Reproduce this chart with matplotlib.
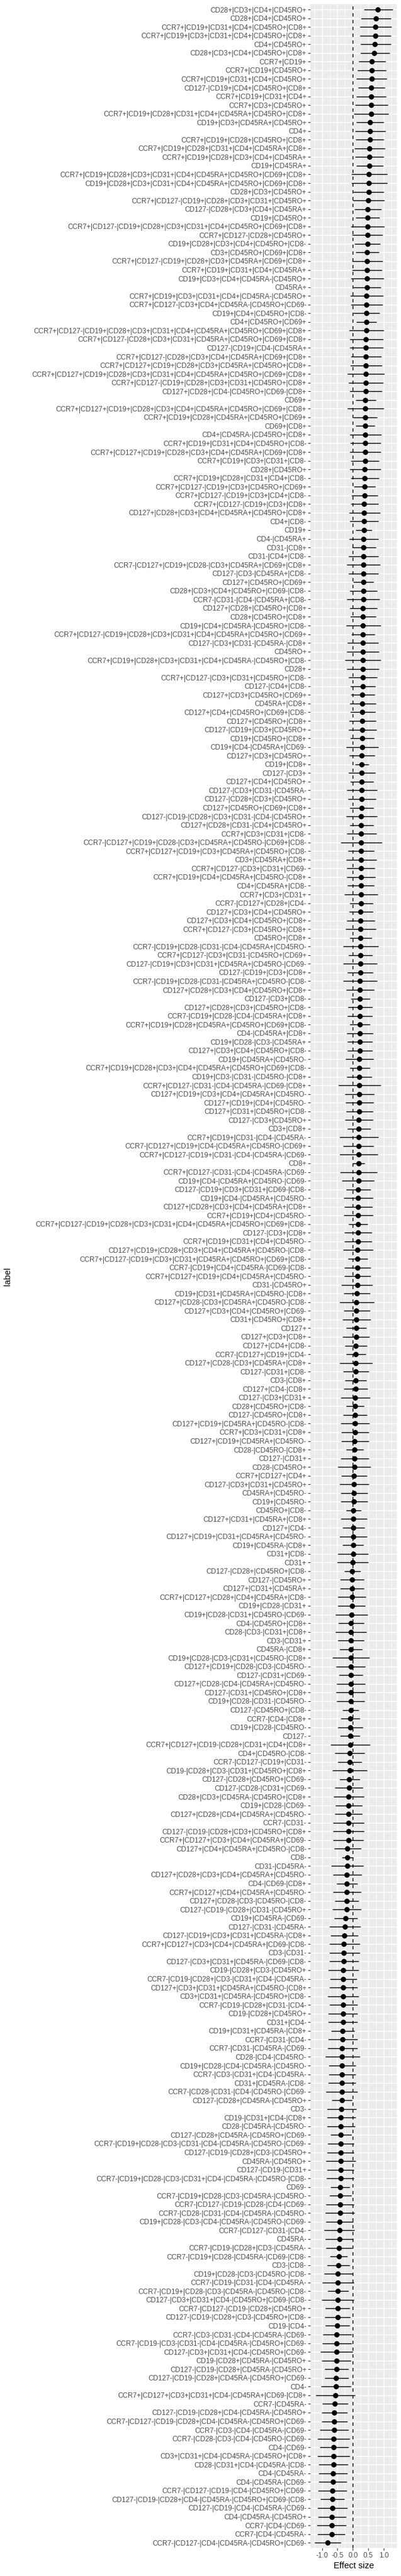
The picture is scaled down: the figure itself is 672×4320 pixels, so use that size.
import matplotlib
matplotlib.use("Agg")
import matplotlib.pyplot as plt
import numpy as np

plt.rcParams['font.family'] = ['Liberation Sans', 'DejaVu Sans']
plt.rcParams['axes.unicode_minus'] = False

# 1) Data: cell populations, top row first
labels = [
    "CD28+|CD3+|CD4+|CD45RO+", "CD28+|CD4+|CD45RO+", "CCR7+|CD19+|CD31+|CD4+|CD45RO+|CD8+",
    "CCR7+|CD19+|CD3+|CD31+|CD4+|CD45RO+|CD8+", "CD4+|CD45RO+", "CD28+|CD3+|CD4+|CD45RO+|CD8+",
    "CCR7+|CD19+", "CCR7+|CD19+|CD45RO+", "CCR7+|CD19+|CD31+|CD4+|CD45RO+",
    "CD127-|CD19+|CD4+|CD45RO+|CD8+", "CCR7+|CD19+|CD31+|CD4+", "CCR7+|CD3+|CD45RO+",
    "CCR7+|CD19+|CD28+|CD31+|CD4+|CD45RA+|CD45RO+|CD8+", "CD19+|CD3+|CD45RA+|CD45RO+", "CD4+",
    "CCR7+|CD19+|CD28+|CD45RO+|CD8+", "CCR7+|CD19+|CD28+|CD31+|CD4+|CD45RA+|CD8+",
    "CCR7+|CD19+|CD28+|CD3+|CD4+|CD45RA+", "CD19+|CD45RA+",
    "CCR7+|CD19+|CD28+|CD3+|CD31+|CD4+|CD45RA+|CD45RO+|CD69+|CD8+",
    "CD19+|CD28+|CD3+|CD31+|CD4+|CD45RA+|CD45RO+|CD69+|CD8+", "CD28+|CD3+|CD45RO+",
    "CCR7+|CD127-|CD19+|CD28+|CD3+|CD31+|CD45RO+", "CD127-|CD28+|CD3+|CD4+|CD45RA+",
    # 25
    "CD19+|CD45RO+", "CCR7+|CD127-|CD19+|CD28+|CD3+|CD31+|CD4+|CD45RO+|CD69+|CD8+",
    "CCR7+|CD127-|CD28+|CD45RO+", "CD19+|CD28+|CD3+|CD4+|CD45RO+|CD8-", "CD3+|CD45RO+|CD69+|CD8+",
    "CCR7+|CD127-|CD19+|CD28+|CD3+|CD45RA+|CD69+|CD8+", "CCR7+|CD19+|CD31+|CD4+|CD45RA+",
    "CD19+|CD3+|CD4+|CD45RA-|CD45RO+", "CD45RA+", "CCR7+|CD19+|CD3+|CD31+|CD4+|CD45RA-|CD45RO+",
    "CCR7+|CD127-|CD3+|CD4+|CD45RA-|CD45RO+|CD69-", "CD19+|CD4+|CD45RO+|CD8-", "CD4+|CD45RO+|CD69+",
    "CCR7+|CD127-|CD19+|CD28+|CD3+|CD31+|CD4+|CD45RA+|CD45RO+|CD69+|CD8+",
    "CCR7+|CD127-|CD28+|CD3+|CD31+|CD45RA+|CD45RO+|CD69+|CD8+", "CD127-|CD19+|CD4-|CD45RA+",
    "CCR7+|CD127-|CD28+|CD3+|CD4+|CD45RA+|CD69+|CD8+",
    "CCR7+|CD127+|CD19+|CD28+|CD3+|CD45RA+|CD45RO+|CD8+",
    "CCR7+|CD127+|CD19+|CD28+|CD3+|CD31+|CD4+|CD45RA+|CD45RO+|CD69+|CD8+",
    "CCR7+|CD127-|CD19+|CD28+|CD3+|CD31+|CD45RO+|CD8+", "CD127+|CD28+|CD4-|CD45RO+|CD69-|CD8+",
    "CD69+", "CCR7+|CD127+|CD19+|CD28+|CD3+|CD4+|CD45RA+|CD45RO+|CD69+|CD8+",
    "CCR7+|CD19+|CD28+|CD45RA+|CD45RO+|CD69+", "CD69+|CD8+",
    # 50
    "CD4+|CD45RA-|CD45RO+|CD8+", "CCR7+|CD19+|CD31+|CD4+|CD45RO+|CD8-",
    "CCR7+|CD127+|CD19+|CD28+|CD3+|CD4+|CD45RA+|CD69+|CD8+", "CCR7+|CD19+|CD3+|CD31+|CD8-",
    "CD28+|CD45RO+", "CCR7+|CD19+|CD28+|CD31+|CD4+|CD8-", "CCR7+|CD127-|CD19+|CD3+|CD45RO+|CD69+",
    "CCR7+|CD127-|CD19+|CD3+|CD4+|CD8-", "CCR7+|CD127-|CD19+|CD3+|CD8+",
    "CD127+|CD28+|CD3+|CD4+|CD45RA+|CD45RO+|CD8+", "CD4+|CD8-", "CD19+", "CD4-|CD45RA+",
    "CD31-|CD8+", "CD31-|CD4+|CD8-", "CCR7-|CD127+|CD19+|CD28-|CD3+|CD45RA+|CD69+|CD8+",
    "CD127-|CD3-|CD45RA+|CD8-", "CD127+|CD45RO+|CD69+", "CD28+|CD3+|CD4+|CD45RO+|CD69-|CD8-",
    "CCR7-|CD31-|CD4-|CD45RA+|CD8-", "CD127+|CD28+|CD45RO+|CD8+", "CD28+|CD45RO+|CD8+",
    "CD19+|CD4+|CD45RA-|CD45RO+|CD8-",
    "CCR7+|CD127-|CD19+|CD28+|CD3+|CD31+|CD4+|CD45RA+|CD45RO+|CD69+",
    "CD127-|CD3+|CD31-|CD45RA-|CD8+",
    # 75
    "CD45RO+", "CCR7+|CD19+|CD28+|CD3+|CD31+|CD4+|CD45RA-|CD45RO+|CD8-", "CD28+",
    "CCR7+|CD127-|CD3+|CD31+|CD45RO+|CD8-", "CD127-|CD4+|CD8-", "CD127+|CD3+|CD45RO+|CD69+",
    "CD45RA+|CD8+", "CD127+|CD4+|CD45RO+|CD69+|CD8-", "CD127+|CD45RO+|CD8+",
    "CD127-|CD19+|CD3+|CD45RO+", "CD19+|CD45RO+|CD8+", "CD19+|CD4-|CD45RA+|CD69-",
    "CD127+|CD3+|CD45RO+", "CD19+|CD8+", "CD127-|CD3+", "CD127+|CD4+|CD45RO+",
    "CD127-|CD3+|CD31-|CD45RA-", "CD127-|CD28+|CD3+|CD45RO+", "CD127+|CD45RO+|CD69+|CD8+",
    "CD127-|CD19-|CD28+|CD3+|CD31-|CD4-|CD45RO+", "CD127+|CD28+|CD31-|CD4+|CD45RO+",
    "CCR7+|CD3+|CD31+|CD8-", "CCR7-|CD127+|CD19+|CD28-|CD3+|CD45RA+|CD45RO-|CD69+|CD8-",
    "CCR7+|CD127+|CD19+|CD3+|CD45RA+|CD45RO+|CD8-",
    # 99
    "CD3+|CD45RA+|CD8+", "CCR7+|CD127-|CD3+|CD31+|CD69-", "CCR7+|CD19+|CD4+|CD45RA+|CD45RO-|CD8+",
    "CD4+|CD45RA+|CD8-", "CCR7+|CD3+|CD31+", "CCR7-|CD127+|CD28+|CD4-", "CD127+|CD3+|CD4+|CD45RO+",
    "CD127+|CD3+|CD4+|CD45RO+|CD8+", "CCR7+|CD127-|CD3+|CD45RO+|CD8+", "CD45RO+|CD8+",
    "CCR7-|CD19+|CD28-|CD31-|CD4-|CD45RA+|CD45RO-", "CCR7+|CD127-|CD3+|CD31-|CD45RO+|CD69+",
    "CD127-|CD19+|CD3+|CD31+|CD45RA+|CD45RO-|CD69-", "CD127-|CD19+|CD3+|CD8+",
    "CCR7-|CD19+|CD28-|CD31-|CD45RA+|CD45RO-|CD8-", "CD127+|CD28+|CD3+|CD4+|CD45RO+|CD8+",
    "CD127-|CD3+|CD8-", "CD127+|CD28+|CD3+|CD45RO+|CD8-", "CCR7-|CD19+|CD28-|CD4-|CD45RA+|CD8+",
    "CCR7+|CD19+|CD28+|CD45RA+|CD45RO+|CD69+|CD8-", "CD4-|CD45RA+|CD8+",
    "CD19+|CD28-|CD3-|CD45RA+", "CD127+|CD3+|CD4+|CD45RO+|CD8-", "CD19+|CD45RA+|CD45RO-",
    "CCR7+|CD19+|CD28+|CD3+|CD4+|CD45RA+|CD45RO+|CD69+|CD8-",
    # 124
    "CD19+|CD3-|CD31-|CD45RO-|CD8+", "CCR7+|CD127-|CD31-|CD4-|CD45RA-|CD69-|CD8+",
    "CD127+|CD19+|CD3+|CD4+|CD45RA+|CD45RO-", "CD127+|CD19+|CD4+|CD45RO-",
    "CD127+|CD31+|CD45RO+|CD8-", "CD127-|CD3+|CD45RO+", "CD3+|CD8+",
    "CCR7+|CD19+|CD31-|CD4-|CD45RA-", "CCR7-|CD127+|CD19+|CD4-|CD45RA+|CD45RO-|CD69+",
    "CCR7+|CD127-|CD19+|CD31-|CD4-|CD45RA-|CD69-", "CD8+", "CCR7+|CD127-|CD31-|CD4-|CD45RA-|CD69-",
    "CD19+|CD4-|CD45RA+|CD45RO-|CD69-", "CD127-|CD19+|CD3+|CD31+|CD69-|CD8-",
    "CD19+|CD4-|CD45RA+|CD45RO-", "CD127+|CD28+|CD3+|CD4+|CD45RA+|CD8+", "CCR7+|CD19+|CD4+|CD45RO-",
    "CCR7+|CD127-|CD19+|CD28+|CD3+|CD31+|CD4+|CD45RA+|CD45RO+|CD69+|CD8-", "CD127-|CD3+|CD8+",
    "CCR7+|CD19+|CD31+|CD4+|CD45RO-", "CD127+|CD19+|CD28+|CD3+|CD4+|CD45RA+|CD45RO-|CD8-",
    "CCR7+|CD127-|CD19+|CD3+|CD31+|CD45RA+|CD45RO+|CD69+|CD8-",
    "CCR7-|CD19+|CD4+|CD45RA-|CD69-|CD8-", "CCR7+|CD127+|CD19+|CD4+|CD45RA+|CD45RO-",
    "CD31-|CD45RO+",
    # 149
    "CD19+|CD31+|CD45RA+|CD45RO-|CD8+", "CD127+|CD28-|CD3+|CD45RA+|CD45RO-|CD8-",
    "CD127+|CD3+|CD4+|CD45RO+|CD69-", "CD31+|CD45RO+|CD8+", "CD127+", "CD127+|CD3+|CD8+",
    "CD127+|CD4+|CD8-", "CCR7-|CD127+|CD19+|CD4-", "CD127+|CD28-|CD3+|CD45RA+|CD8+",
    "CD127-|CD31+|CD8-", "CD3-|CD8+", "CD127+|CD4-|CD8+", "CD127-|CD3+|CD31+",
    "CD28+|CD45RO+|CD8-", "CD127-|CD45RO+|CD8+", "CD127+|CD19+|CD45RA+|CD45RO-|CD8-",
    "CCR7+|CD3+|CD31+|CD8+", "CD127+|CD19+|CD45RA+|CD45RO-", "CD28-|CD45RO-|CD8+",
    "CD127-|CD31+", "CD28-|CD45RO+", "CCR7+|CD127+|CD4+", "CD127-|CD3+|CD31+|CD45RO+",
    "CD45RA+|CD45RO-", "CD19+|CD45RO-",
    # 174
    "CD45RO+|CD8-", "CD127+|CD31+|CD45RA+|CD8+", "CD127+|CD4-",
    "CD127+|CD19+|CD31+|CD45RA+|CD45RO-", "CD19+|CD45RA-|CD8+", "CD31+|CD8-", "CD31+",
    "CD127-|CD28+|CD45RO+|CD8-", "CD127-|CD45RO+", "CD127+|CD31+|CD45RA+",
    "CCR7+|CD127+|CD28+|CD4+|CD45RA+|CD8-", "CD19+|CD28-|CD31+", "CD19+|CD28-|CD31+|CD45RO-|CD69-",
    "CD4-|CD45RO+|CD8+", "CD28-|CD3-|CD31+|CD8+", "CD3-|CD31+", "CD45RA-|CD8+",
    "CD19+|CD28-|CD3-|CD31+|CD45RO-|CD8+", "CD127+|CD19+|CD28-|CD3-|CD45RO-",
    "CD127-|CD31+|CD69-", "CD127+|CD28-|CD4-|CD45RA+|CD45RO-", "CD127-|CD31+|CD45RO+|CD8+",
    "CD19+|CD28-|CD31-|CD45RO-", "CD127-|CD45RO+|CD8-",
    # 198
    "CCR7-|CD4-|CD8+", "CD19+|CD28-|CD45RO-", "CD127-", "CCR7+|CD127+|CD19-|CD28+|CD31+|CD4+|CD8+",
    "CD4+|CD45RO-|CD8-", "CCR7-|CD127-|CD19+|CD31-", "CD19-|CD28+|CD3-|CD31+|CD45RO+|CD8+",
    "CD127-|CD28+|CD45RO+|CD69-", "CD127-|CD28-|CD31+|CD69-", "CD28+|CD3+|CD45RA-|CD45RO+|CD8+",
    "CD19+|CD28-|CD69-", "CD127+|CD28+|CD4+|CD45RA+|CD45RO-", "CCR7-|CD31-",
    "CD127-|CD19-|CD28+|CD3+|CD45RO+|CD8+", "CCR7+|CD127+|CD3+|CD4+|CD45RA+|CD69-",
    "CD127+|CD4+|CD45RA+|CD45RO-|CD8-", "CD8-", "CD31-|CD45RA-",
    "CD127+|CD28+|CD3+|CD4+|CD45RA+|CD45RO-", "CD4-|CD69-|CD8+", "CCR7+|CD127+|CD4+|CD45RA+|CD45RO-",
    "CD127+|CD28-|CD3-|CD45RO-|CD8-", "CD127-|CD19-|CD28+|CD31-|CD45RO+", "CD19+|CD45RA-|CD69-",
    "CD127-|CD31-|CD45RA-",
    # 223
    "CD127-|CD19+|CD3+|CD31+|CD45RA-|CD8+", "CCR7+|CD127+|CD3+|CD4+|CD45RA+|CD69-|CD8-",
    "CD3-|CD31-", "CD127-|CD3+|CD31+|CD45RA-|CD69-|CD8-", "CD19-|CD28+|CD3-|CD45RO+",
    "CCR7-|CD19-|CD28+|CD3-|CD31+|CD4-|CD45RA-", "CD127+|CD3+|CD31+|CD45RA+|CD45RO-|CD8+",
    "CD3+|CD31+|CD45RA-|CD45RO+|CD8-", "CCR7-|CD19-|CD28+|CD31-|CD4-", "CD19-|CD28+|CD45RO+",
    "CD31+|CD4-", "CD19+|CD31+|CD45RA-|CD8+", "CCR7-|CD31-|CD4-", "CCR7-|CD31-|CD45RA-|CD69-",
    "CD28-|CD4-|CD45RO-", "CD19+|CD28-|CD4-|CD45RA-|CD45RO-", "CCR7-|CD3-|CD31+|CD4-|CD45RA-",
    "CD31+|CD45RA-|CD8-", "CCR7-|CD28-|CD31-|CD4-|CD45RO-|CD69-", "CD127-|CD28+|CD45RA-|CD45RO+",
    "CD3-", "CD19-|CD31+|CD4-|CD8+", "CD28-|CD45RA-|CD45RO-", "CD127-|CD28+|CD45RA-|CD45RO+|CD69-",
    "CCR7-|CD19+|CD28-|CD3-|CD31-|CD4-|CD45RA-|CD45RO-|CD69-",
    # 248
    "CD127-|CD19-|CD28+|CD3-|CD45RO+", "CD45RA-|CD45RO+", "CD127-|CD19-|CD31+",
    "CCR7-|CD19+|CD28-|CD3-|CD31+|CD4-|CD45RA-|CD45RO-|CD8-", "CD69-",
    "CCR7-|CD19+|CD28-|CD3-|CD45RA-|CD45RO-", "CCR7-|CD127-|CD19-|CD28-|CD4-|CD69-",
    "CCR7-|CD28-|CD31-|CD4-|CD45RA-|CD45RO-", "CD19+|CD28-|CD3-|CD4-|CD45RA-|CD45RO-|CD69-",
    "CCR7-|CD127-|CD31-|CD4-", "CD45RA-", "CCR7-|CD19-|CD28+|CD3-|CD45RA-",
    "CCR7-|CD19+|CD28-|CD45RA-|CD69-|CD8-", "CD3-|CD8-", "CD19+|CD28-|CD3-|CD45RO-|CD8-",
    "CCR7-|CD19-|CD31-|CD4-|CD45RA-", "CCR7-|CD19+|CD28-|CD3-|CD45RA-|CD45RO-|CD8-",
    "CD127-|CD3+|CD31+|CD4-|CD45RO+|CD69-|CD8-", "CCR7-|CD127-|CD19-|CD28+|CD45RO+",
    "CD127-|CD19-|CD28+|CD3-|CD45RO+|CD8-", "CD19-|CD4-", "CCR7-|CD3-|CD31-|CD4-|CD45RA-|CD69-",
    "CCR7-|CD19-|CD3-|CD31-|CD4-|CD45RA-|CD45RO+|CD69-", "CD127-|CD3+|CD31+|CD4-|CD45RO+|CD69-",
    "CD19-|CD28+|CD45RA-|CD45RO+",
    # 273
    "CD127-|CD19-|CD28+|CD45RA-|CD45RO+", "CD127-|CD19-|CD28+|CD45RA-|CD45RO+|CD69-", "CD4-",
    "CCR7+|CD127+|CD3+|CD31+|CD4-|CD45RA+|CD69-|CD8+", "CCR7-|CD45RA-",
    "CD127-|CD19-|CD28+|CD4-|CD45RA-|CD45RO+", "CCR7-|CD127-|CD19-|CD28+|CD4-|CD45RA-|CD45RO+|CD69-",
    "CCR7-|CD3-|CD4-|CD45RA-|CD69-", "CCR7-|CD28-|CD3-|CD4-|CD45RO-|CD69-", "CD4-|CD69-",
    "CD3+|CD31+|CD4-|CD45RA-|CD45RO+|CD8+", "CD28-|CD31+|CD4-|CD45RA-|CD8-", "CD4-|CD45RA-",
    "CD4-|CD45RA-|CD69-", "CCR7-|CD127-|CD19-|CD4-|CD45RO+|CD69-",
    "CD127-|CD19-|CD28+|CD4-|CD45RA-|CD45RO+|CD69-|CD8-", "CD127-|CD19-|CD4-|CD45RA-|CD69-",
    "CD4-|CD45RA-|CD45RO+", "CCR7-|CD4-|CD69-", "CCR7-|CD4-|CD45RA-",
    "CCR7-|CD127-|CD4-|CD45RA-|CD45RO+|CD69-",
]

effect = [
    0.81, 0.74, 0.73, 0.73, 0.72, 0.70, 0.62, 0.61, 0.61, 0.60, 0.60, 0.60,
    0.59, 0.56, 0.56, 0.55, 0.54, 0.53, 0.53, 0.52, 0.52, 0.51, 0.49, 0.48,
    0.48, 0.48, 0.47, 0.47, 0.46, 0.46, 0.46, 0.45, 0.45, 0.44, 0.44, 0.44,
    0.44, 0.44, 0.43, 0.43, 0.43, 0.43, 0.43, 0.42, 0.42, 0.41, 0.41, 0.41, 0.40,
    0.41, 0.40, 0.40, 0.40, 0.39, 0.39, 0.38, 0.38, 0.37, 0.37, 0.36, 0.36,
    0.35, 0.35, 0.35, 0.35, 0.35, 0.34, 0.34, 0.34, 0.33, 0.33, 0.33, 0.32, 0.32,
    0.32, 0.32, 0.32, 0.32, 0.32, 0.31, 0.31, 0.31, 0.31, 0.30, 0.30, 0.30,
    0.29, 0.28, 0.28, 0.28, 0.28, 0.28, 0.28, 0.27, 0.27, 0.27, 0.27, 0.26,
    0.26, 0.26, 0.26, 0.26, 0.26, 0.26, 0.25, 0.25, 0.25, 0.24, 0.24, 0.24,
    0.24, 0.24, 0.23, 0.23, 0.23, 0.23, 0.23, 0.23, 0.23, 0.22, 0.22, 0.21, 0.21,
    0.21, 0.21, 0.21, 0.20, 0.20, 0.19, 0.19, 0.19, 0.19, 0.19, 0.19, 0.18,
    0.18, 0.17, 0.17, 0.17, 0.17, 0.16, 0.16, 0.16, 0.15, 0.15, 0.15, 0.15, 0.14,
    0.13, 0.12, 0.12, 0.12, 0.11, 0.11, 0.10, 0.10, 0.10, 0.09, 0.09, 0.09,
    0.08, 0.07, 0.07, 0.07, 0.07, 0.06, 0.06, 0.05, 0.05, 0.04, 0.04, 0.03, 0.03,
    0.02, 0.02, 0.02, 0.02, 0.01, 0.01, 0.00, -0.02, -0.02, -0.02, -0.03, -0.03,
    -0.04, -0.06, -0.06, -0.06, -0.06, -0.06, -0.06, -0.06, -0.06, -0.07, -0.07, -0.07,
    -0.08, -0.08, -0.09, -0.09, -0.10, -0.10, -0.10, -0.12, -0.13, -0.14, -0.14,
    -0.15, -0.15, -0.15, -0.15, -0.17, -0.17, -0.18, -0.19, -0.19, -0.19, -0.20,
    -0.20, -0.23, -0.26,
    -0.28, -0.29, -0.29, -0.30, -0.31, -0.31, -0.31, -0.31, -0.32, -0.32, -0.32,
    -0.33, -0.34, -0.35, -0.35, -0.36, -0.36, -0.36, -0.36, -0.36, -0.37, -0.39,
    -0.39, -0.39, -0.39,
    -0.40, -0.40, -0.40, -0.40, -0.41, -0.41, -0.42, -0.42, -0.43, -0.44, -0.44,
    -0.45, -0.46, -0.47, -0.48, -0.48, -0.48, -0.49, -0.49, -0.49, -0.50, -0.52,
    -0.52, -0.52, -0.53,
    -0.53, -0.54, -0.55, -0.56, -0.59, -0.60, -0.60, -0.60, -0.62, -0.62, -0.63,
    -0.63, -0.64, -0.65, -0.66, -0.67, -0.67, -0.68, -0.69, -0.69, -0.82,
]

ci_low = [
    0.36, 0.26, 0.23, 0.23, 0.24, 0.24, 0.19, 0.15, 0.12, 0.16, 0.12, 0.07,
    0.03, 0.12, 0.07, 0.09, 0.05, 0.08, 0.11, -0.05, -0.05, 0.02, 0.00, 0.06,
    0.10, -0.07, -0.02, 0.05, 0.09, -0.03, -0.02, -0.07, 0.01, -0.09, -0.06, 0.02,
    0.12, -0.12, -0.10, -0.10, -0.06, -0.09, -0.17, -0.15, -0.10, 0.09, -0.17, 0.02, 0.10,
    -0.10, -0.09, -0.11, -0.06, -0.11, -0.07, 0.03, -0.05, -0.07, -0.13, -0.10,
    0.09, -0.12, -0.03, -0.14, -0.19, -0.14, 0.02, -0.11, -0.19, -0.11, -0.08,
    -0.22, -0.05, -0.18,
    -0.19, -0.25, -0.19, -0.14, -0.09, -0.07, -0.11, -0.09, -0.12, -0.15, -0.08,
    -0.21, -0.12, 0.07, -0.14, -0.08, -0.20, -0.16, -0.10, -0.22, -0.11, -0.20,
    -0.40, -0.16,
    -0.22, -0.19, -0.20, -0.17, -0.28, -0.11, -0.13, -0.20, -0.24, -0.10, -0.32,
    -0.14, -0.31, -0.17, -0.32, -0.21, -0.07, -0.16, -0.17, -0.10, -0.19, -0.17,
    -0.18, -0.23, -0.11,
    -0.19, -0.47, -0.26, -0.24, -0.21, -0.25, -0.18, -0.43, -0.31, -0.44, 0.00,
    -0.42, -0.35, -0.22, -0.29, -0.27, -0.30, -0.15, -0.27, -0.28, -0.32, -0.16,
    -0.28, -0.28, -0.37,
    -0.30, -0.44, -0.30, -0.34, -0.22, -0.33, -0.26, -0.22, -0.44, -0.32, -0.25,
    -0.30, -0.40, -0.22, -0.32, -0.40, -0.38, -0.38, -0.22, -0.40, -0.48, -0.37,
    -0.43, -0.40, -0.40,
    -0.22, -0.40, -0.34, -0.43, -0.33, -0.48, -0.51, -0.28, -0.41, -0.42, -0.48,
    -0.48, -0.57, -0.47, -0.56, -0.48, -0.43, -0.66, -0.55, -0.46, -0.53, -0.55,
    -0.53, -0.33,
    -0.40, -0.49, -0.41, -0.73, -0.59, -0.48, -0.66, -0.44, -0.58, -0.62, -0.57,
    -0.59, -0.65, -0.65, -0.64, -0.61, -0.36, -0.71, -0.65, -0.53, -0.65, -0.58,
    -0.67, -0.61, -0.76,
    -0.72, -0.77, -0.77, -0.77, -0.79, -0.75, -0.77, -0.81, -0.77, -0.79, -0.79,
    -0.71, -0.79, -0.82, -0.90, -0.78, -0.78, -0.79, -0.87, -0.69, -0.84, -0.84,
    -0.84, -0.72, -0.82,
    -0.83, -0.87, -0.84, -0.85, -0.73, -0.77, -0.87, -0.90, -0.87, -0.93, -0.90,
    -0.87, -0.74, -0.84, -0.93, -0.99, -0.82, -1.02, -0.89, -0.91, -0.90, -0.98,
    -1.00, -1.05, -1.01,
    -0.92, -0.92, -1.04, -1.20, -1.00, -1.01, -1.02, -1.07, -1.14, -1.07, -1.15,
    -1.10, -1.10, -1.11, -1.12, -1.06, -1.15, -1.13, -1.17, -1.14, -1.25,
]

ci_high = [
    1.30, 1.23, 1.25, 1.24, 1.23, 1.19, 1.05, 1.07, 1.09, 1.04, 1.08, 1.13,
    1.15, 1.01, 1.06, 1.01, 1.04, 1.01, 0.98, 1.11, 1.11, 1.01, 1.02, 0.92,
    0.86, 1.02, 0.96, 0.89, 0.84, 0.97, 0.94, 1.00, 0.90, 0.98, 0.96, 0.86,
    0.77, 1.00, 0.98, 0.98, 0.92, 0.95, 1.02, 0.98, 0.94, 0.74, 1.00, 0.79, 0.72,
    0.92, 0.90, 0.90, 0.84, 0.90, 0.85, 0.73, 0.81, 0.82, 0.88, 0.82, 0.62,
    0.83, 0.74, 0.83, 0.89, 0.82, 0.68, 0.78, 0.86, 0.79, 0.75, 0.90, 0.72, 0.82,
    0.84, 0.90, 0.84, 0.78, 0.73, 0.71, 0.74, 0.73, 0.75, 0.76, 0.69, 0.82,
    0.72, 0.52, 0.73, 0.67, 0.78, 0.74, 0.67, 0.78, 0.67, 0.76, 0.95, 0.69,
    0.76, 0.72, 0.73, 0.69, 0.80, 0.65, 0.65, 0.72, 0.75, 0.61, 0.82, 0.63,
    0.79, 0.66, 0.79, 0.69, 0.55, 0.64, 0.64, 0.56, 0.66, 0.63, 0.64, 0.68, 0.55,
    0.62, 0.90, 0.69, 0.67, 0.65, 0.66, 0.57, 0.82, 0.68, 0.81, 0.38, 0.78,
    0.69, 0.58, 0.65, 0.63, 0.65, 0.48, 0.61, 0.62, 0.65, 0.47, 0.58, 0.58, 0.64,
    0.56, 0.69, 0.55, 0.58, 0.44, 0.53, 0.46, 0.42, 0.64, 0.52, 0.44, 0.48,
    0.56, 0.37, 0.46, 0.54, 0.52, 0.52, 0.35, 0.51, 0.57, 0.45, 0.52, 0.48, 0.47,
    0.27, 0.46, 0.38, 0.46, 0.34, 0.49, 0.50, 0.25, 0.36, 0.36, 0.42, 0.41,
    0.48, 0.36, 0.44, 0.36, 0.31, 0.53, 0.41, 0.33, 0.40, 0.40, 0.38, 0.18,
    0.23, 0.33, 0.23, 0.56, 0.39, 0.28, 0.46, 0.22, 0.32, 0.36, 0.30, 0.31,
    0.36, 0.36, 0.34, 0.27, 0.02, 0.34, 0.28, 0.15, 0.26, 0.19, 0.27, 0.14, 0.24,
    0.16, 0.22, 0.22, 0.19, 0.18, 0.13, 0.15, 0.18, 0.15, 0.15, 0.15, 0.06,
    0.14, 0.14, 0.22, 0.10, 0.09, 0.09, 0.15, -0.02, 0.11, 0.09, 0.07, -0.05, 0.03,
    0.04, 0.10, 0.04, 0.04, -0.10, -0.05, 0.04, 0.06, 0.02, 0.06, 0.02, -0.02,
    -0.17, -0.11, 0.00, 0.03, -0.15, 0.04, -0.10, -0.08, -0.10, -0.05, -0.04,
    -0.01, -0.07,
    -0.15, -0.15, -0.06, 0.08, -0.16, -0.18, -0.17, -0.14, -0.10, -0.15, -0.10,
    -0.16, -0.18, -0.20, -0.19, -0.27, -0.18, -0.21, -0.22, -0.26, -0.40,
]

# 2) Figure, sized like the ggplot export (7 x 45 in at 96 dpi)
fig = plt.figure(figsize=(7, 45), dpi=96)
ax = fig.add_axes([0.774, 0.0109, 0.2156, 0.9874])

n = len(labels)
ypos = np.arange(n, 0, -1)

ax.set_facecolor("#EBEBEB")
ax.hlines(ypos, ci_low, ci_high, color="black", linewidth=1.07, zorder=3)
ax.plot(effect, ypos, "o", color="black", markersize=5.6, zorder=4)
ax.axvline(0, color="black", linestyle=(0, (4, 4)), linewidth=1.07, zorder=5)

# x range: data extent plus 5%
lo, hi = min(ci_low), max(ci_high)
pad = 0.05 * (hi - lo)
ax.set_xlim(lo - pad, hi + pad)
ax.set_ylim(0.4, n + 0.6)

xt = [-1.0, -0.5, 0.0, 0.5, 1.0]
ax.set_xticks(xt)
ax.set_xticklabels([f"{v:.1f}" for v in xt])
ax.set_xticks([-1.25, -0.75, -0.25, 0.25, 0.75, 1.25], minor=True)
ax.set_yticks(ypos)
ax.set_yticklabels(labels)

ax.grid(which="major", color="white", linewidth=1.07, zorder=0)
ax.grid(which="minor", axis="x", color="white", linewidth=0.53, zorder=0)
ax.set_axisbelow(True)
for s in ax.spines.values():
    s.set_visible(False)

ax.tick_params(axis="both", which="major", length=2.75, width=0.8, color="#333333",
               labelsize=8.8, labelcolor="#4D4D4D", pad=2.2)
ax.tick_params(axis="x", which="minor", length=0)

ax.set_xlabel("Effect size", fontsize=11, labelpad=3)
fig.text(13 / 672, 0.0109 + 0.9874 / 2, "label", rotation=90, fontsize=11,
         ha="center", va="center")

fig.savefig("out.png", dpi=96)
